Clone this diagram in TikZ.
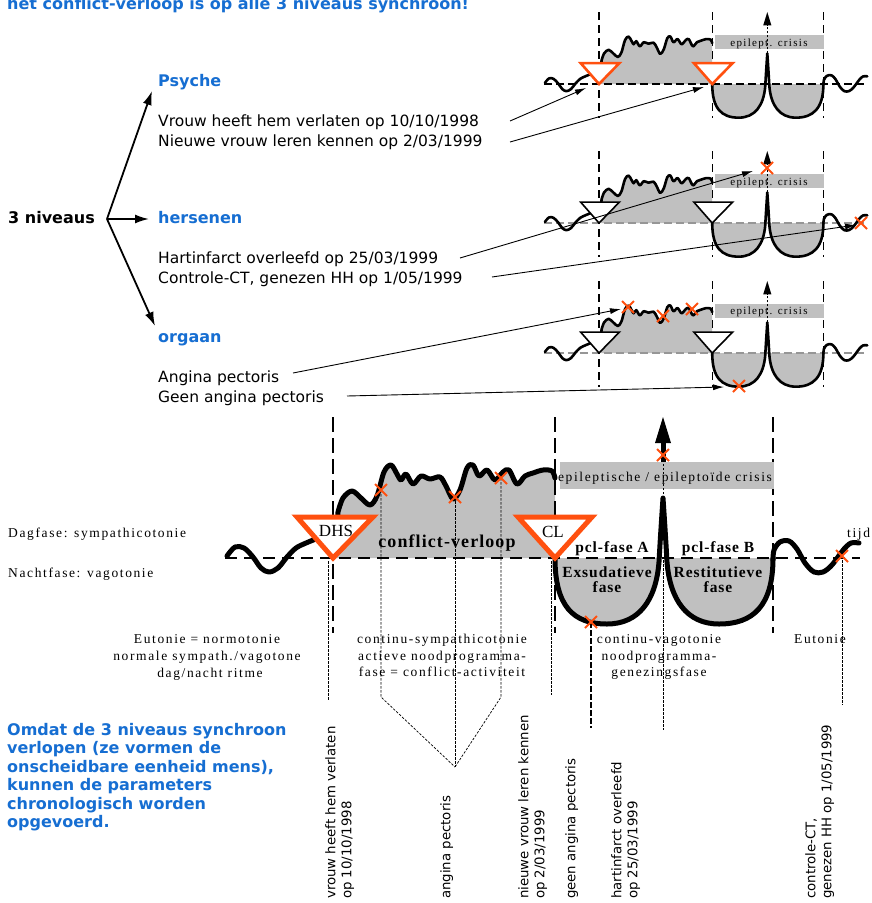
\documentclass[tikz,border=0pt]{standalone}
\usepackage{fontspec}
\setmainfont{DejaVu Sans}
\newfontfamily\tmsw{Liberation Serif}[LetterSpace=12]
\newfontfamily\tmsm{Liberation Serif}[LetterSpace=6]
\newfontfamily\tmsn{Liberation Serif}
\usetikzlibrary{arrows.meta}
\definecolor{nblue}{RGB}{22,110,210}
\definecolor{norange}{RGB}{255,80,15}
\definecolor{ngrey}{RGB}{192,192,192}
\definecolor{gline}{RGB}{150,150,150}
\tikzset{
 crv/.style={line width=#1, line cap=round, line join=round},
 bbase/.style={line width=2.5pt, dash pattern=on 12pt off 7pt},
 sbase/.style={line width=1.8pt, dash pattern=on 8pt off 4pt},
 gbase/.style={sbase, draw=gline},
 bvert/.style={line width=2.8pt, dash pattern=on 15pt off 6pt},
 svert/.style={line width=1.3pt, dash pattern=on 8pt off 5pt},
 thind/.style={line width=0.7pt, dash pattern=on 2.5pt off 1.5pt},
 heavyd/.style={line width=2pt, dash pattern=on 6pt off 2pt},
 xmk/.style={draw=norange, line width=2pt},
 tarrow/.style={line width=0.9pt, -{Latex[length=11pt,width=6pt]}},
 barrow/.style={line width=1.8pt, -{Latex[length=14pt,width=9pt]}},
 btri/.style={draw=norange, fill=white, line width=5pt, line join=miter},
 otri/.style={draw=norange, fill=white, line width=2.6pt, line join=miter},
 ktri/.style={draw=black, fill=white, line width=1.6pt, line join=miter},
 lab/.style={inner sep=0pt, anchor=base west, font=\fontsize{15.5}{18}\selectfont},
 blab/.style={inner sep=0pt, anchor=base west, font=\bfseries\fontsize{16}{19}\selectfont},
 bluelab/.style={blab, text=nblue},
 rot/.style={inner sep=0pt, rotate=90, anchor=north west, align=left, font=\fontsize{13.3}{16}\selectfont},
 ser/.style={inner sep=0pt, anchor=base, font=\tmsw\fontsize{13.5}{16}\selectfont},
 sers/.style={inner sep=0pt, anchor=base, font=\tmsw\fontsize{11}{13}\selectfont},
 serb/.style={inner sep=0pt, anchor=base, font=\tmsm\bfseries\fontsize{15.5}{18}\selectfont},
}
\newcommand\conflictpath[2]{\path[#1] #2 plot[smooth,tension=0.55] coordinates {(5,-46) (10,-60) (19,-67) (28,-60) (37,-53) (44,-62) (51,-86) (58,-93) (64,-84) (68,-78) (73,-84) (80,-74) (88,-82) (97,-79) (107,-81) (113,-72) (120,-59) (127,-68) (134,-90) (140,-93) (146,-82) (154,-88) (162,-78) (170,-86) (176,-88) (184,-74) (192,-82) (200,-85) (210,-88) (219,-87) (222,-80)}}
\newcommand\bowlpath[1]{\path[#1] (222,0) .. controls (222,48) and (240,66) .. (274,66) .. controls (306,66) and (323,42) .. (326,4) .. controls (327,-15) and (329,-45) .. (330,-60) .. controls (331,-45) and (333,-15) .. (334,4) .. controls (337,42) and (354,66) .. (386,66) .. controls (420,66) and (440,48) .. (440,0)}
\newcommand\diagcore[4]{%
 \conflictpath{fill=ngrey}{(4,0) --} -- (222,0) -- cycle;
 \begin{scope}\clip (215,0) rectangle (450,100); \bowlpath{fill=ngrey} -- cycle; \end{scope}
 \draw[#2] (-108,0) -- (527,0);
 \draw[crv=#1] plot[smooth,tension=0.55] coordinates {(-106,-2) (-98,-11) (-89,-10) (-80,-1) (-72,10) (-64,14) (-55,10) (-46,-1) (-37,-10) (-27,-15) (-15,-20) (-3,-26) (4,-34)};
 \conflictpath{draw,crv=#1}{(4,-32) --};
 \bowlpath{draw,crv=#1};
 \draw[crv=#1] plot[smooth,tension=0.55] coordinates {(440,2) (441,-8) (447,-16) (456,-17) (464,-9) (472,5) (481,14) (490,14) (498,8) (505,-1) (511,-9) (518,-15) (526,-15)};
 \foreach \vx in {0,222,440} {\draw[#3] (\vx,-141) -- (\vx,#4);}
 \fill[ngrey] (227,-96) rectangle (441,-69);
 \fill (330,-141) -- (322,-115) -- (338,-115) -- cycle;
}
\newcommand\xm[1]{\draw[xmk] (#1) +(-6,-6) -- +(6,6) (#1) +(-6,6) -- +(6,-6);}
\begin{document}
\begin{tikzpicture}[x=1pt,y=-1pt]
\useasboundingbox (0,0) rectangle (871,903);
\fill[white] (0,0) rectangle (871,903);
\clip (0,0) rectangle (871,903);

% ---------- left text ----------
\node[bluelab] (title) at (7,9) {het conflict-verloop is op alle 3 niveaus synchroon!};
\node[blab] (niv) at (8,223) {3 niveaus};
\coordinate (hub) at (107,219);
\node[bluelab] (psy) at (158,86) {Psyche};
\node[bluelab] (hers) at (158,223) {hersenen};
\node[bluelab] (org) at (158,342) {orgaan};
\coordinate (psyA) at (152,91);
\coordinate (hersA) at (149,219);
\coordinate (orgA) at (155,326);
\draw[barrow] (hub) -- (psyA);
\draw[barrow] (hub) -- (hersA);
\draw[barrow] (hub) -- (orgA);
\node[lab] (t1) at (158,126) {Vrouw heeft hem verlaten op 10/10/1998};
\node[lab] (t2) at (158,146) {Nieuwe vrouw leren kennen op 2/03/1999};
\node[lab] (t3) at (158,263) {Hartinfarct overleefd op 25/03/1999};
\node[lab] (t4) at (158,283) {Controle-CT, genezen HH op 1/05/1999};
\node[lab] (t5) at (158,382) {Angina pectoris};
\node[lab] (t6) at (158,402) {Geen angina pectoris};

% ---------- small diagram 1 (Psyche) ----------
\begin{scope}[shift={(599,84)},scale=0.51]
 \diagcore{2.6pt}{sbase}{svert}{67}
 \draw[thind] (330,-60) -- (330,-115);
 \draw[otri] (-36,-41) -- (40,-41) -- (0,0) -- cycle;
 \draw[otri] (186,-41) -- (262,-41) -- (222,0) -- cycle;
\end{scope}
\node[sers] (c1) at (769,46) {epilept. crisis};

% ---------- small diagram 2 (hersenen) ----------
\begin{scope}[shift={(599,223)},scale=0.51]
 \diagcore{2.6pt}{gbase}{svert}{67}
 \draw[thind] (330,-60) -- (330,-115);
 \draw[ktri] (-36,-41) -- (40,-41) -- (0,0) -- cycle;
 \draw[ktri] (186,-41) -- (262,-41) -- (222,0) -- cycle;
\end{scope}
\node[sers] (c2) at (769,185) {epilept. crisis};

% ---------- small diagram 3 (orgaan) ----------
\begin{scope}[shift={(599,353)},scale=0.51]
 \diagcore{2.6pt}{gbase}{svert}{67}
 \draw[thind] (330,-60) -- (330,-115);
 \draw[ktri] (-36,-41) -- (40,-41) -- (0,0) -- cycle;
 \draw[ktri] (186,-41) -- (262,-41) -- (222,0) -- cycle;
\end{scope}
\node[sers] (c3) at (769,314) {epilept. crisis};

% ---------- big diagram ----------
\begin{scope}[shift={(333,558)}]
 \diagcore{5pt}{bbase}{bvert}{75}
 \draw[line width=5pt] (330,-96) -- (330,-117);
 \draw[thind] (330,-60) -- (330,-96);
 \draw[btri] (-36,-41) -- (40,-41) -- (0,0) -- cycle;
 \draw[btri] (185,-41) -- (259,-41) -- (222,0) -- cycle;
\end{scope}
\node[inner sep=0, anchor=base, font=\tmsn\fontsize{17}{20}\selectfont] (dhs) at (336,536) {DHS};
\node[inner sep=0, anchor=base, font=\tmsn\fontsize{17}{20}\selectfont] (cl) at (553,537) {CL};
\node[ser] (crisis) at (665,481) {epileptische / epileptoïde crisis};
\node[serb, font=\tmsm\bfseries\fontsize{18}{20}\selectfont] (cv) at (447,547) {conflict-verloop};
\node[serb] (pa) at (612,552) {pcl-fase A};
\node[serb] (pb) at (718,552) {pcl-fase B};
\node[serb] (ex1) at (607,577) {Exsudatieve};
\node[serb] (ex2) at (607,592) {fase};
\node[serb] (re1) at (718,577) {Restitutieve};
\node[serb] (re2) at (718,592) {fase};
\node[ser, anchor=base west] (tijd) at (847,537) {tijd};
\node[ser, anchor=base west] (dag) at (8,537) {Dagfase: sympathicotonie};
\node[ser, anchor=base west] (nacht) at (8,577) {Nachtfase: vagotonie};
\node[ser] (e1) at (207,643) {Eutonie = normotonie};
\node[ser] (e2) at (207,660) {normale sympath./vagotone};
\node[ser] (e3) at (210,677) {dag/nacht ritme};
\node[ser] (s1) at (442,643) {continu-sympathicotonie};
\node[ser] (s2) at (442,660) {actieve noodprogramma-};
\node[ser] (s3) at (442,676) {fase = conflict-activiteit};
\node[ser] (v1) at (659,643) {continu-vagotonie};
\node[ser] (v2) at (659,660) {noodprogramma-};
\node[ser] (v3) at (659,676) {genezingsfase};
\node[ser] (eu) at (820,643) {Eutonie};

% thin dashed leaders
\draw[thind] (328,561) -- (328,700);
\draw[thind] (381,490) -- (381,697) -- (455,767);
\draw[thind] (455,497) -- (455,767);
\draw[thind] (501,478) -- (501,697) -- (455,767);
\draw[thind] (551,561) -- (551,695);
\draw[heavyd] (591,622) -- (591,728);
\draw[thind] (663,560) -- (663,730);
\draw[thind] (842,556) -- (842,705);

% arrows from the texts
\draw[tarrow] (510,121) -- (586,88);
\draw[tarrow] (510,142) -- (704,87);
\draw[tarrow] (460,258) -- (753,171);
\draw[tarrow] (492,277) -- (856,225);
\draw[tarrow] (293,373) -- (621,309);
\draw[tarrow] (347,396) -- (724,387);

% crosses
\xm{767,168} \xm{861,223}
\xm{628,307} \xm{663,316} \xm{692,309} \xm{739,386}
\xm{381,490} \xm{455,497} \xm{501,478} \xm{663,455} \xm{591,622} \xm{842,556}

% bottom texts
\node[bluelab] (b1) at (7,735) {Omdat de 3 niveaus synchroon};
\node[bluelab] (b2) at (7,753.5) {verlopen (ze vormen de};
\node[bluelab] (b3) at (7,772) {onscheidbare eenheid mens),};
\node[bluelab] (b4) at (7,790.5) {kunnen de parameters};
\node[bluelab] (b5) at (7,809) {chronologisch worden};
\node[bluelab] (b6) at (7,827.5) {opgevoerd.};

\node[rot] (r1) at (325,899) {vrouw heeft hem verlaten\\op 10/10/1998};
\node[rot] (r2) at (440,899) {angina pectoris};
\node[rot] (r3) at (518,899) {nieuwe vrouw leren kennen\\op 2/03/1999};
\node[rot] (r4) at (565,899) {geen angina pectoris};
\node[rot] (r5) at (611,899) {hartinfarct overleefd\\op 25/03/1999};
\node[rot] (r6) at (805,899) {controle-CT,\\genezen HH op 1/05/1999};
\end{tikzpicture}
\end{document}
